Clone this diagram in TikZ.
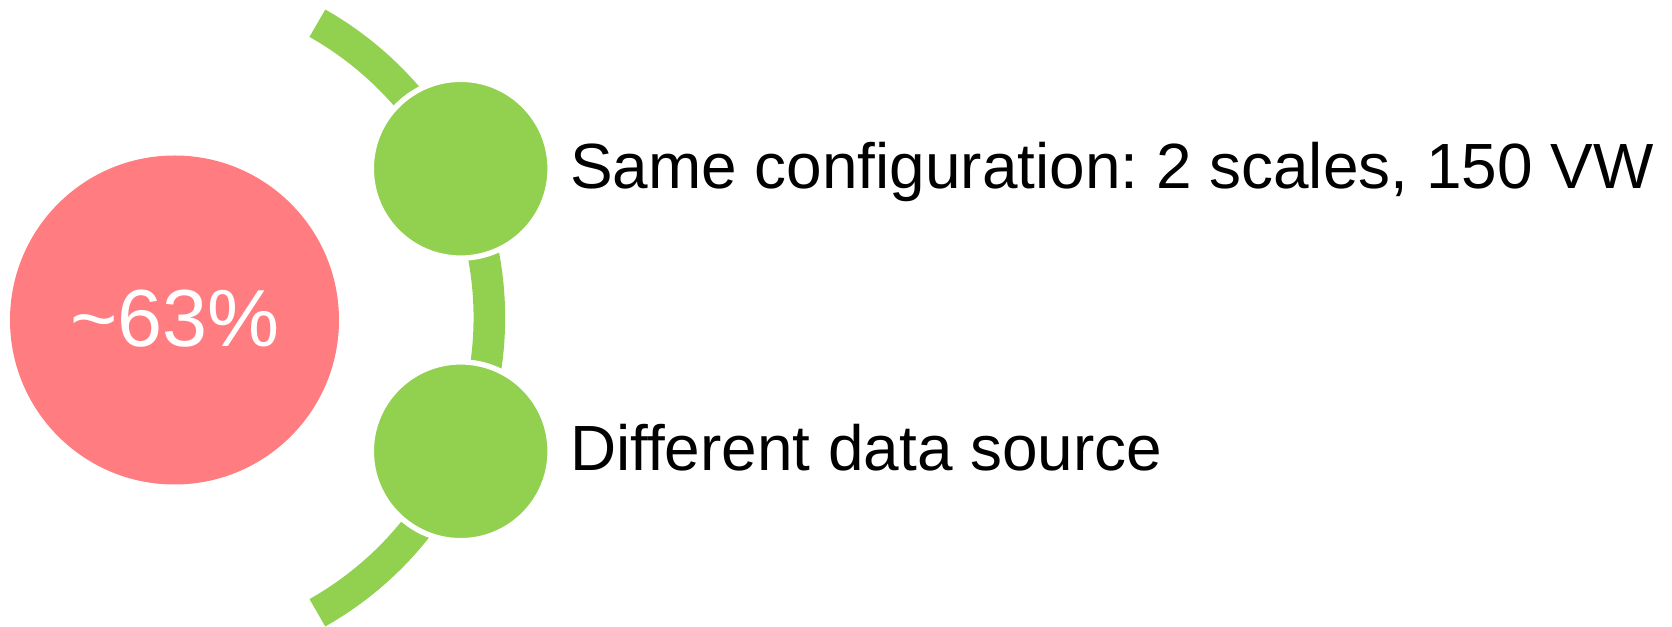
\documentclass[tikz,border=0pt]{standalone}
\usepackage{fontspec}
\usetikzlibrary{calc}
\setmainfont[Ligatures={NoCommon}]{Liberation Sans}
\frenchspacing
\definecolor{leafgreen}{HTML}{92D050}
\definecolor{salmon}{HTML}{FF7C80}
\tikzset{
  bigdot/.style={circle, fill=salmon, draw=none, minimum size=329pt, inner sep=0pt},
  itemdot/.style={circle, fill=leafgreen, draw=white, line width=5.4pt, minimum size=178.8pt, inner sep=0pt},
  itemtext/.style={anchor=base west, inner sep=0pt, font=\fontsize{63.9}{78}\selectfont},
  bandarc/.style={draw=leafgreen, line width=31.6pt, line cap=butt},
}
\begin{document}
\begin{tikzpicture}[x=1pt, y=1pt]
  \useasboundingbox (0,0) rectangle (1672,626);
  % curved band behind the item markers
  \coordinate (hub) at (150.6,308);
  \draw[bandarc] ($(hub)+(-60.5:338.7)$) arc[start angle=-60.5, end angle=60.5, radius=338.7];
  % headline figure
  \node[bigdot] (pct) at (174.5,306) {};
  \node[anchor=base, inner sep=0pt, text=white, font=\fontsize{81}{97}\selectfont] (pcttext) at (175,279) {\char`~63\%};
  % list items
  \node[itemdot] (d1) at (460.7,457.3) {};
  \node[itemdot] (d2) at (460.7,174.7) {};
  \node[itemtext] (t1) at (570,437.7) {Same configuration: 2 scales, 150 VW};
  \node[itemtext] (t2) at (570,155) {Different data source};
\end{tikzpicture}
\end{document}
